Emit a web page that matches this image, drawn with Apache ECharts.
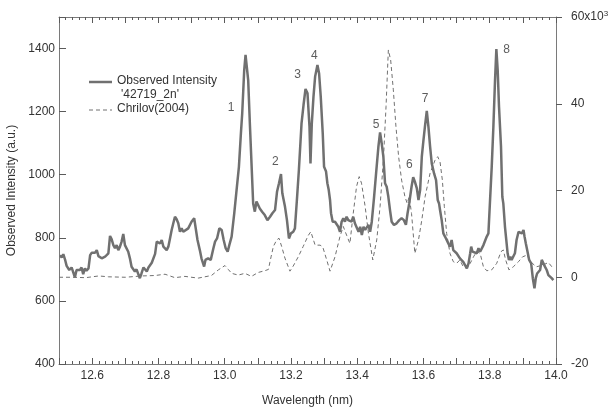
<!doctype html>
<html lang="en">
<head>
    <meta charset="utf-8">
    <script src="https://cdn.jsdelivr.net/npm/echarts@6/dist/echarts.min.js"></script>
    <title>Observed vs Chrilov spectra</title>
    <style>
        html, body { margin: 0; padding: 0; background: #fff; }
        #chart { width: 610px; height: 407px; }
    </style>
</head>
<body>
<div id="chart"></div>

<script type="text/javascript">

    // observed intensity trace (nm, a.u.)
    const wavelength = [
        12.503, 12.508, 12.513, 12.518, 12.523, 12.531, 12.538, 12.548, 12.553, 12.558,
        12.563, 12.568, 12.573, 12.578, 12.583, 12.589, 12.594, 12.599, 12.604, 12.609,
        12.614, 12.619, 12.624, 12.629, 12.634, 12.639, 12.644, 12.649, 12.654, 12.659,
        12.664, 12.669, 12.674, 12.679, 12.684, 12.689, 12.694, 12.699, 12.704, 12.709,
        12.714, 12.719, 12.724, 12.729, 12.734, 12.739, 12.744, 12.749, 12.755, 12.760,
        12.765, 12.770, 12.775, 12.780, 12.785, 12.790, 12.795, 12.800, 12.805, 12.810,
        12.815, 12.820, 12.825, 12.830, 12.835, 12.840, 12.845, 12.850, 12.855, 12.860,
        12.865, 12.870, 12.875, 12.880, 12.890, 12.900, 12.908, 12.918, 12.925, 12.930,
        12.938, 12.942, 12.950, 12.958, 12.966, 12.971, 12.977, 12.984, 12.991, 12.997,
        13.003, 13.009, 13.014, 13.021, 13.029, 13.036, 13.043, 13.049, 13.053, 13.059,
        13.063, 13.067, 13.071, 13.076, 13.081, 13.086, 13.091, 13.096, 13.101, 13.106,
        13.113, 13.121, 13.129, 13.137, 13.144, 13.152, 13.158, 13.164, 13.170, 13.174,
        13.178, 13.182, 13.188, 13.194, 13.200, 13.207, 13.212, 13.218, 13.224, 13.232,
        13.238, 13.244, 13.250, 13.256, 13.259, 13.263, 13.268, 13.273, 13.280, 13.285,
        13.290, 13.296, 13.300, 13.306, 13.310, 13.314, 13.318, 13.321, 13.326, 13.333,
        13.338, 13.343, 13.348, 13.353, 13.358, 13.363, 13.368, 13.373, 13.378, 13.383,
        13.388, 13.393, 13.398, 13.404, 13.409, 13.414, 13.419, 13.424, 13.429, 13.434,
        13.439, 13.444, 13.451, 13.457, 13.464, 13.469, 13.474, 13.479, 13.484, 13.489,
        13.494, 13.499, 13.504, 13.511, 13.519, 13.527, 13.534, 13.541, 13.547, 13.552,
        13.557, 13.564, 13.569, 13.574, 13.580, 13.585, 13.590, 13.595, 13.600, 13.605,
        13.610, 13.615, 13.620, 13.625, 13.632, 13.638, 13.643, 13.647, 13.650, 13.655,
        13.660, 13.665, 13.670, 13.675, 13.680, 13.685, 13.690, 13.695, 13.700, 13.705,
        13.710, 13.715, 13.720, 13.726, 13.731, 13.736, 13.741, 13.744, 13.748, 13.754,
        13.761, 13.766, 13.771, 13.776, 13.781, 13.786, 13.791, 13.796, 13.801, 13.806,
        13.811, 13.816, 13.820, 13.824, 13.828, 13.834, 13.838, 13.841, 13.846, 13.850,
        13.854, 13.858, 13.862, 13.866, 13.871, 13.876, 13.881, 13.887, 13.892, 13.897,
        13.902, 13.905, 13.909, 13.915, 13.919, 13.925, 13.930, 13.935, 13.939, 13.943,
        13.947, 13.952, 13.957, 13.962, 13.967, 13.972, 13.977, 13.982, 13.987, 13.992
    ];
    const observed = [
        745, 738, 748, 732, 711, 698, 706, 675, 698, 703,
        698, 706, 685, 703, 696, 703, 745, 753, 756, 753,
        761, 742, 745, 735, 735, 740, 745, 751, 806, 795,
        777, 767, 777, 761, 772, 788, 812, 777, 777, 756,
        735, 708, 703, 693, 700, 698, 672, 687, 706, 700,
        693, 706, 703, 721, 719, 749, 788, 791, 782, 793,
        772, 777, 761, 772, 798, 825, 846, 867, 859, 846,
        819, 830, 819, 825, 830, 851, 862, 793, 761, 735,
        709, 730, 735, 730, 767, 788, 798, 830, 825, 793,
        767, 756, 777, 804, 878, 952, 1025, 1131, 1195, 1332,
        1380, 1374, 1300, 1163, 1036, 909, 883, 915, 904, 893,
        883, 872, 856, 867, 878, 888, 946, 973, 1002, 941,
        936, 899, 856, 798, 814, 819, 830, 920, 1015, 1163,
        1221, 1272, 1258, 1152, 1036, 1163, 1247, 1311, 1348, 1321,
        1247, 1131, 1025, 1010, 973, 952, 920, 878, 851, 851,
        846, 835, 819, 851, 862, 851, 867, 856, 862, 851,
        867, 846, 841, 819, 835, 809, 835, 825, 819, 841,
        819, 851, 930, 1004, 1089, 1134, 1099, 1057, 973, 962,
        930, 888, 851, 841, 846, 856, 862, 856, 841, 878,
        909, 962, 992, 978, 957, 920, 952, 1057, 1110, 1158,
        1202, 1152, 1089, 1036, 1004, 983, 920, 909, 888, 856,
        814, 804, 793, 782, 772, 793, 761, 767, 751, 751,
        735, 740, 724, 730, 703, 719, 751, 772, 756, 761,
        751, 767, 756, 761, 777, 772, 804, 814, 920, 1025,
        1152, 1300, 1398, 1332, 1216, 1089, 930, 909, 835, 793,
        751, 730, 740, 730, 730, 751, 793, 819, 825, 814,
        825, 804, 782, 751, 730, 719, 672, 640, 672, 687,
        693, 698, 730, 724, 708, 698, 682, 687, 672, 666
    ];

    // convoluted spectra (Chrilov 2004), right axis, x10^3
    const chrilovWl = [
        12.500, 12.540, 12.580, 12.620, 12.650, 12.700, 12.750, 12.790, 12.820, 12.850,
        12.880, 12.920, 12.960, 12.981, 13.001, 13.011, 13.021, 13.041, 13.061, 13.081,
        13.101, 13.121, 13.132, 13.140, 13.147, 13.157, 13.164, 13.172, 13.182, 13.197,
        13.207, 13.222, 13.237, 13.252, 13.260, 13.273, 13.288, 13.296, 13.308, 13.318,
        13.333, 13.348, 13.358, 13.368, 13.378, 13.388, 13.398, 13.406, 13.413, 13.424,
        13.434, 13.447, 13.459, 13.469, 13.479, 13.487, 13.494, 13.501, 13.509, 13.517,
        13.525, 13.534, 13.544, 13.551, 13.557, 13.564, 13.574, 13.585, 13.595, 13.605,
        13.620, 13.635, 13.643, 13.650, 13.657, 13.663, 13.670, 13.680, 13.690, 13.700,
        13.710, 13.720, 13.731, 13.741, 13.751, 13.761, 13.771, 13.781, 13.791, 13.806,
        13.821, 13.834, 13.841, 13.848, 13.858, 13.871, 13.887, 13.899, 13.912, 13.925,
        13.940, 13.960, 13.977, 13.992
    ];
    const chrilov = [
        0.0, 0.0, -0.1, 0.3, 0.1, 0.0, 0.3, 0.4, 0.7, -0.1,
        0.2, -0.2, 0.4, 1.7, 2.7, 1.8, 0.9, 0.5, 0.9, 0.2,
        1.1, 1.5, 1.8, 4.7, 7.1, 8.6, 9.0, 7.1, 4.4, 1.4,
        2.6, 4.7, 7.1, 9.6, 10.5, 7.4, 7.4, 7.0, 4.0, 1.4,
        4.7, 9.4, 11.7, 9.7, 7.8, 14.7, 20.9, 23.2, 21.7, 16.3,
        10.1, 4.0, 8.6, 16.3, 27.0, 39.3, 52.4, 50.1, 43.2, 34.7,
        27.8, 22.4, 18.6, 17.0, 18.6, 14.7, 5.5, 8.6, 13.2, 18.6,
        24.0, 27.0, 27.8, 26.6, 22.4, 16.3, 10.1, 5.5, 3.6, 3.2,
        4.0, 2.4, 2.1, 3.2, 4.7, 6.0, 5.5, 2.4, 1.5, 1.7,
        3.2, 5.9, 6.3, 4.0, 1.7, 2.4, 3.6, 4.7, 5.1, 3.5,
        2.4, 2.8, 3.4, 2.0
    ];

    // numbered peak labels (placed at wavelength / left-axis value)
    const peakNames = ['1', '2', '3', '4', '5', '6', '7', '8'];
    const peakX = [13.019, 13.153, 13.220, 13.271, 13.457, 13.557, 13.605, 13.851];
    const peakY = [1211, 1042, 1316, 1376, 1160, 1033, 1242, 1395];

    const lineColor = '#707070';
    const axisColor = '#7a7a7a';
    const tickColor = '#5a5a5a';
    const textColor = '#333';
    const font = 'Liberation Sans';

    const observedData = wavelength.map((w, i) => [w, observed[i]]);
    const chrilovData = chrilovWl.map((w, i) => [w, chrilov[i]]);
    const peakData = peakNames.map((n, i) => ({name: n, value: [peakX[i], peakY[i]]}));

    let chart = echarts.init(document.getElementById('chart'));

    const hiddenSplit = {show: true, lineStyle: {color: 'rgba(0,0,0,0)'}};

    // wavelength axis: ticks every 0.1, minor every 0.02, labels every 0.2
    function wavelengthAxis(position, withLabels) {
        return {
            type: 'value',
            position: position,
            min: 12.5,
            max: 14.0,
            interval: 0.1,
            axisLine: {show: true, onZero: false, lineStyle: {color: axisColor, width: 1}},
            axisTick: {show: true, inside: true, length: 6, lineStyle: {color: tickColor, width: 1}},
            minorTick: {show: true, splitNumber: 5, length: 3, lineStyle: {color: tickColor, width: 1}},
            axisLabel: {
                show: withLabels, color: textColor, fontSize: 12, margin: 6, fontFamily: font,
                formatter: v => (Math.round(v * 10) % 2 === 0 && v > 12.55) ? v.toFixed(1) : ''
            },
            splitLine: hiddenSplit
        };
    }

    let bottomAxis = wavelengthAxis('bottom', true);
    bottomAxis.name = 'Wavelength (nm)';
    bottomAxis.nameLocation = 'middle';
    bottomAxis.nameGap = 31;
    bottomAxis.nameTextStyle = {color: textColor, fontSize: 12, fontFamily: font};

    let option = {
        animation: false,
        grid: {left: 59, right: 54, top: 17, bottom: 43, outerBoundsMode: 'none'},
        xAxis: [
            bottomAxis,
            wavelengthAxis('top', false)
        ],
        yAxis: [
            {
                type: 'value',
                position: 'left',
                min: 400,
                max: 1500,
                interval: 200,
                name: 'Observed Intensity (a.u.)',
                nameLocation: 'middle',
                nameGap: 40,
                nameTextStyle: {color: textColor, fontSize: 12, fontFamily: font},
                axisLine: {show: true, onZero: false, lineStyle: {color: axisColor}},
                axisTick: {show: true, inside: true, length: 7, lineStyle: {color: tickColor, width: 1}},
                axisLabel: {
                    color: textColor, fontSize: 12, margin: 4, fontFamily: font,
                    formatter: v => v === 1500 ? '' : String(v)
                },
                splitLine: hiddenSplit
            },
            {
                type: 'value',
                position: 'right',
                min: -20,
                max: 60,
                interval: 20,
                name: 'Convoluted Spectra(Chrilov)',
                nameLocation: 'middle',
                nameRotate: -90,
                nameGap: 36,
                nameTextStyle: {color: textColor, fontSize: 12, fontFamily: font},
                axisLine: {show: true, onZero: false, lineStyle: {color: axisColor}},
                axisTick: {show: true, inside: false, length: 6, lineStyle: {color: tickColor, width: 1}},
                axisLabel: {
                    color: textColor, fontSize: 12, margin: 15, fontFamily: font,
                    formatter: v => v === 60 ? '60x10{sup|3}' : String(v),
                    rich: {sup: {fontSize: 8, verticalAlign: 'top', padding: [0, 0, 6, 0], color: textColor}}
                },
                splitLine: hiddenSplit
            }
        ],
        series: [
            {
                name: 'Chrilov(2004)',
                type: 'line',
                xAxisIndex: 0,
                yAxisIndex: 1,
                data: chrilovData,
                showSymbol: false,
                silent: true,
                lineStyle: {color: lineColor, width: 1, type: [4, 3]},
                z: 2
            },
            {
                name: 'Observed Intensity',
                type: 'line',
                xAxisIndex: 0,
                yAxisIndex: 0,
                data: observedData,
                showSymbol: false,
                silent: true,
                lineStyle: {color: lineColor, width: 2.5},
                z: 3
            },
            {
                name: 'peaks',
                type: 'scatter',
                xAxisIndex: 0,
                yAxisIndex: 0,
                data: peakData,
                symbolSize: 1,
                itemStyle: {color: 'rgba(0,0,0,0)'},
                silent: true,
                label: {
                    show: true,
                    position: 'inside',
                    formatter: p => p.name,
                    color: textColor,
                    fontSize: 12,
                    fontFamily: font
                },
                z: 4
            }
        ],
        // hand drawn legend, like the original
        graphic: [
            {type: 'line', shape: {x1: 89, y1: 82, x2: 112, y2: 82}, style: {stroke: lineColor, lineWidth: 2.5}},
            {type: 'text', left: 117, top: 75, style: {text: 'Observed Intensity', fill: textColor, font: '12px "Liberation Sans"'}},
            {type: 'text', left: 121, top: 89, style: {text: "'42719_2n'", fill: textColor, font: '12px "Liberation Sans"'}},
            {type: 'line', shape: {x1: 89, y1: 110, x2: 112, y2: 110}, style: {stroke: lineColor, lineWidth: 1, lineDash: [4, 3]}},
            {type: 'text', left: 117, top: 103, style: {text: 'Chrilov(2004)', fill: textColor, font: '12px "Liberation Sans"'}}
        ]
    };

    chart.setOption(option);
</script>
</body>
</html>
